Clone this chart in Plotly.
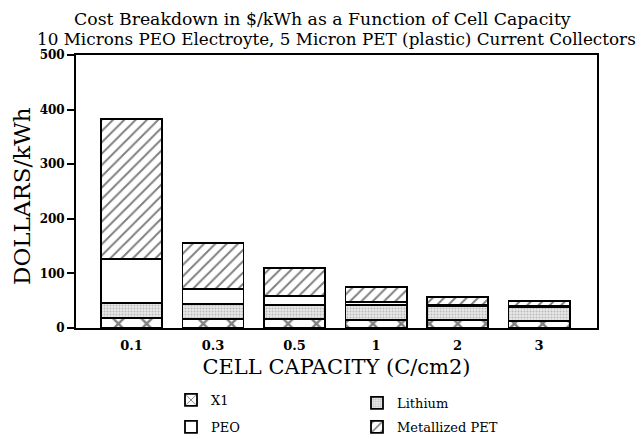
import plotly.graph_objects as go

categories = ["0.1", "0.3", "0.5", "1", "2", "3"]
x1 = [18, 17, 17, 15, 14, 13]
lithium = [28, 27, 25, 27, 26, 26]
peo = [80, 28, 17, 6, 3, 2]
metallized_pet = [257, 84, 51, 27, 14, 9]
y_ticks = [0, 100, 200, 300, 400, 500]

pos = list(range(len(categories)))
FONT = "DejaVu Serif"
line = dict(color="black", width=1.8)
W = 0.75

# page body has an 8px margin, so figure coordinates are image coordinates minus 8
OFF = 8
FW, FH = 644 - OFF, 439 - OFF
ML, MR, MT, MB = 76 - OFF, 47, 55 - OFF, 111
PW, PH = FW - ML - MR, FH - MT - MB


def px_x(ix):
    return (ix - OFF - ML) / PW


def px_y(iy):
    return (FH - MB - (iy - OFF)) / PH


def cont_x(ix):
    return (ix - OFF) / FW


def cont_y(iy):
    return 1 - (iy - OFF) / FH


fig = go.Figure()
fig.add_trace(go.Bar(x=pos, y=x1, name="X1", width=W, legend="legend",
                     marker=dict(color="white", line=line,
                                 pattern=dict(shape="x", size=20, solidity=0.22, fgcolor="black", bgcolor="white"))))
fig.add_trace(go.Bar(x=pos, y=lithium, name="Lithium", width=W, legend="legend2",
                     marker=dict(color="#e4e4e4", line=line,
                                 pattern=dict(shape=".", size=3, solidity=0.35, fgcolor="#8a8a8a", bgcolor="#e8e8e8"))))
fig.add_trace(go.Bar(x=pos, y=peo, name="PEO", width=W, legend="legend3",
                     marker=dict(color="white", line=line)))
fig.add_trace(go.Bar(x=pos, y=metallized_pet, name="Metallized PET", width=W, legend="legend4",
                     marker=dict(color="white", line=line,
                                 pattern=dict(shape="/", size=8, solidity=0.24, fgcolor="black", bgcolor="white"))))

leg_common = dict(xanchor="left", yanchor="top", orientation="v", xref="container", yref="container",
                  font=dict(size=13, family=FONT), bgcolor="rgba(0,0,0,0)", itemwidth=30)

fig.update_layout(
    barmode="stack",
    width=FW, height=FH,
    margin=dict(l=ML, r=MR, t=MT, b=MB, autoexpand=False),
    paper_bgcolor="white", plot_bgcolor="white",
    font=dict(family=FONT, color="black", size=12),
    showlegend=True,
    legend=dict(x=cont_x(171), y=cont_y(385), **leg_common),
    legend2=dict(x=cont_x(357), y=cont_y(388), **leg_common),
    legend3=dict(x=cont_x(171), y=cont_y(412), **leg_common),
    legend4=dict(x=cont_x(357), y=cont_y(412), **leg_common),
    annotations=[
        dict(text="Cost Breakdown in $/kWh as a Function of Cell Capacity",
             x=px_x(322), y=px_y(19), xanchor="center", yanchor="middle",
             xref="paper", yref="paper", showarrow=False, font=dict(size=17.3)),
        dict(text="10 Microns PEO Electroyte, 5 Micron PET (plastic) Current Collectors",
             x=px_x(336), y=px_y(39), xanchor="center", yanchor="middle",
             xref="paper", yref="paper", showarrow=False, font=dict(size=16.8)),
        dict(text="DOLLARS/kWh", textangle=-90,
             x=px_x(22), y=px_y(196), xanchor="center", yanchor="middle",
             xref="paper", yref="paper", showarrow=False, font=dict(size=23)),
    ],
)

fig.update_xaxes(range=[-0.68, 5.71], tickvals=pos, ticktext=categories, ticks="",
                 ticklabelstandoff=4,
                 showline=True, linecolor="black", linewidth=1.8, mirror=True,
                 showgrid=False, zeroline=False, tickfont=dict(size=13, weight="bold"),
                 title=dict(text="CELL CAPACITY (C/cm2)", font=dict(size=21), standoff=8))
fig.update_yaxes(range=[0, 500], tickvals=y_ticks, ticks="outside", ticklen=7, tickwidth=1.5,
                 tickcolor="black", showline=True, linecolor="black", linewidth=1.8, mirror=True,
                 showgrid=False, zeroline=False, tickfont=dict(size=12, weight="bold"))

fig.write_html("out.html")
